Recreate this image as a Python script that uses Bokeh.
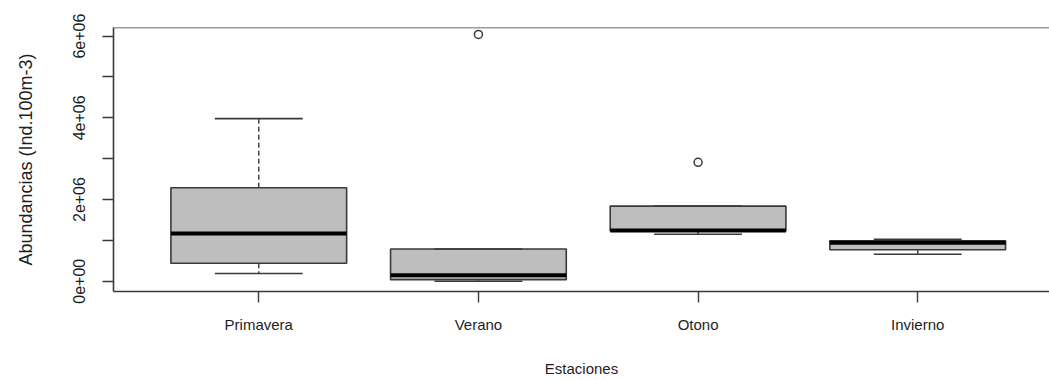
import math
from bokeh.plotting import figure
from bokeh.models import Range1d, FixedTicker, Span, ColumnDataSource
from bokeh.embed import file_html
from bokeh.resources import INLINE

# ---- data ----
estaciones = ["Primavera", "Verano", "Otono", "Invierno"]
lower_whisker = [0.19e6, 0.00e6, 1.15e6, 0.66e6]
q1 = [0.44e6, 0.04e6, 1.23e6, 0.77e6]
median = [1.17e6, 0.15e6, 1.24e6, 0.94e6]
q3 = [2.29e6, 0.79e6, 1.84e6, 0.99e6]
upper_whisker = [3.98e6, 0.79e6, 1.84e6, 1.03e6]
outlier_station = ["Verano", "Otono"]
outlier_value = [6.04e6, 2.91e6]
y_ticks = [0, 1e6, 2e6, 3e6, 4e6, 5e6, 6e6]
y_tick_labels = ["0e+00", "", "2e+06", "", "4e+06", "", "6e+06"]
x_title = "Estaciones"
y_title = "Abundancias (Ind.100m-3)"

# ---- geometry / style ----
BOX_W = 0.8
CAP_W = 0.4
LINE = "#3a3a3a"
FILL = "#BEBEBE"
TEXT = "#1e1e1e"
FONT = "Liberation Sans"
Y_START, Y_END = -0.25e6, 6.21e6

pos = [i + 1 for i in range(len(estaciones))]
pos_of = dict(zip(estaciones, pos))

src = ColumnDataSource(dict(
    x=pos, lw=lower_whisker, q1=q1, med=median, q3=q3, uw=upper_whisker,
    x0=[v - BOX_W / 2 for v in pos], x1=[v + BOX_W / 2 for v in pos],
    c0=[v - CAP_W / 2 for v in pos], c1=[v + CAP_W / 2 for v in pos],
))
out_src = ColumnDataSource(dict(x=[pos_of[s] for s in outlier_station], y=outlier_value))

p = figure(width=1049, height=380,
           x_range=Range1d(0.3386, 4.600), y_range=Range1d(Y_START, Y_END),
           output_backend="svg", toolbar_location=None,
           min_border_left=113, min_border_right=0, min_border_top=27, min_border_bottom=89)
p.outline_line_color = None
p.grid.visible = False
p.background_fill_color = "white"
p.border_fill_color = "white"

# whiskers (dashed)
p.segment(x0="x", y0="q3", x1="x", y1="uw", source=src, line_color=LINE, line_width=1.4, line_dash="5 3")
p.segment(x0="x", y0="q1", x1="x", y1="lw", source=src, line_color=LINE, line_width=1.4, line_dash="5 3")
# boxes
p.quad(left="x0", right="x1", bottom="q1", top="q3", source=src,
       fill_color=FILL, line_color=LINE, line_width=1.6)
# medians
p.segment(x0="x0", y0="med", x1="x1", y1="med", source=src, line_color="black", line_width=4)
# caps
p.segment(x0="c0", y0="uw", x1="c1", y1="uw", source=src, line_color=LINE, line_width=1.6)
p.segment(x0="c0", y0="lw", x1="c1", y1="lw", source=src, line_color=LINE, line_width=1.6)
# outliers
p.scatter(x="x", y="y", source=out_src, marker="circle", size=8,
          fill_color=None, line_color=LINE, line_width=1.5)

# top border of the box
p.add_layout(Span(location=Y_END, dimension="width", line_color=LINE, line_width=1.6))

# x axis
xa = p.xaxis[0]
xa.ticker = FixedTicker(ticks=pos, minor_ticks=[])
xa.major_label_overrides = {v: n for v, n in zip(pos, estaciones)}
xa.axis_line_color = LINE
xa.axis_line_width = 1.6
xa.major_tick_line_color = LINE
xa.major_tick_line_width = 1.4
xa.major_tick_in = 0
xa.major_tick_out = 11
xa.minor_tick_line_color = None
xa.major_label_standoff = 13
xa.major_label_text_font = FONT
xa.major_label_text_font_size = "15px"
xa.major_label_text_color = TEXT
xa.axis_label = x_title
xa.axis_label_text_font = FONT
xa.axis_label_text_font_size = "15px"
xa.axis_label_text_font_style = "normal"
xa.axis_label_text_color = TEXT
xa.axis_label_standoff = 24

# y axis
ya = p.yaxis[0]
ya.ticker = FixedTicker(ticks=y_ticks, minor_ticks=[])
ya.major_label_overrides = {float(v): l for v, l in zip(y_ticks, y_tick_labels)}
ya.major_label_orientation = "parallel"
ya.axis_line_color = LINE
ya.axis_line_width = 1.6
ya.major_tick_line_color = LINE
ya.major_tick_line_width = 1.4
ya.major_tick_in = 0
ya.major_tick_out = 11
ya.minor_tick_line_color = None
ya.major_label_standoff = 17
ya.major_label_text_font = FONT
ya.major_label_text_font_size = "16px"
ya.major_label_text_color = TEXT
ya.axis_label = y_title
ya.axis_label_text_font = FONT
ya.axis_label_text_font_size = "18px"
ya.axis_label_text_font_style = "normal"
ya.axis_label_text_color = TEXT
ya.axis_label_standoff = 35

open("out.html", "w").write(file_html(p, INLINE))
